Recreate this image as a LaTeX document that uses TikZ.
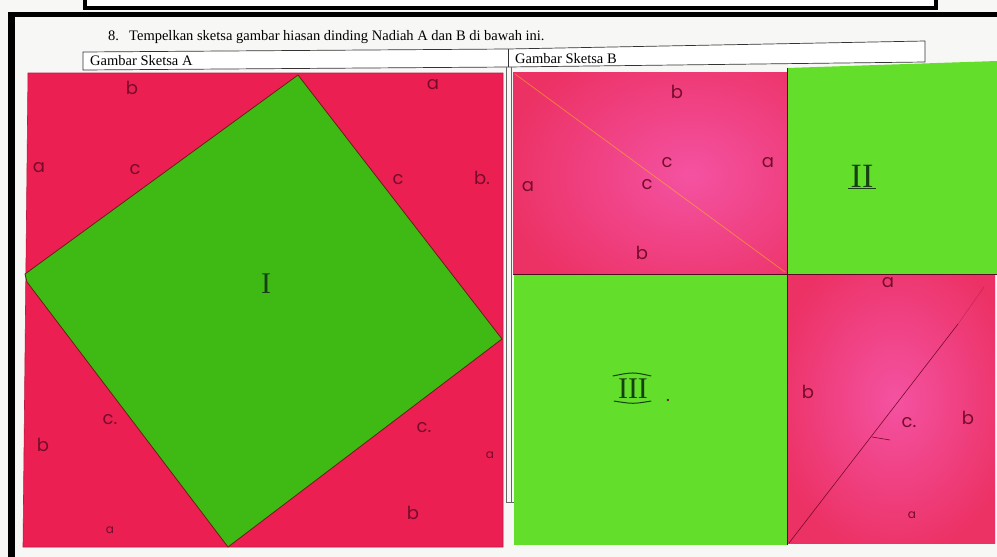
\documentclass[tikz,border=0pt]{standalone}
\usepackage{fontspec}
\setmainfont{Liberation Serif}
\newfontfamily\hand{Poppins}
\definecolor{redA}{HTML}{EC1F52}
\definecolor{greenA}{HTML}{3FBA14}
\definecolor{pinkB}{HTML}{EC3164}
\definecolor{pinkBc}{HTML}{F452A2}
\definecolor{greenB}{HTML}{63DE2A}
\definecolor{ink}{HTML}{760C2A}
\definecolor{inkg}{HTML}{163F14}
\definecolor{edgeA}{HTML}{6A1E14}
\definecolor{paper}{HTML}{F7F7F5}
\tikzset{
  lbl/.style={inner sep=0pt, text=ink, font=\hand\fontsize{18}{18}\selectfont},
  lbls/.style={inner sep=0pt, text=ink, font=\hand\fontsize{12}{12}\selectfont},
  numeral/.style={inner sep=0pt, text=inkg, font=\fontsize{30}{30}\selectfont},
  hdr/.style={anchor=base west, inner sep=0pt, font=\fontsize{14.5}{15}\selectfont},
  tbl/.style={draw=black!80, line width=0.7pt},
  piece/.style={draw=edgeA, line width=0.8pt, line join=round}
}
\begin{document}
\begin{tikzpicture}[x=1pt,y=-1pt]
\useasboundingbox (0,0) rectangle (997,557);
\fill[paper] (0,0) rectangle (997,557);
% top box of the previous question
\fill[white] (85,-5) rectangle (936,8);
\draw[line width=4.5pt] (85,-5) -- (85,8) -- (936,8) -- (936,-5);
% black frame
\fill[black] (8,12) rectangle (15,557);
\fill[black] (8,12) rectangle (997,17);
% question
\node[anchor=base west, inner sep=0pt, font=\fontsize{14.5}{15}\selectfont] (q8) at (108,40)
  {8.\hspace{0.7em}Tempelkan sketsa gambar hiasan dinding Nadiah A dan B di bawah ini.};
% table header
\fill[white] (83,52) -- (508,49) -- (925,41) -- (925,62) -- (508,67) -- (83,70) -- cycle;
\draw[tbl] (83,52) -- (508,49) -- (925,41) -- (925,62) -- (508,67) -- (83,70) -- cycle;
\draw[tbl] (508,49) -- (508,67);
\node[hdr] (ha) at (90,65) {Gambar Sketsa A};
\node[hdr] (hb) at (515,63) {Gambar Sketsa B};
\draw[black!60, line width=0.6pt] (506,67) -- (506,502) -- (515,502);
\draw[black!60, line width=0.6pt] (511,67) -- (511,502);

% ---------- Sketsa A ----------
\fill[redA] (28,73) -- (503,73) -- (503,547) -- (23,547) -- cycle;
\draw[redA!80!black, line width=0.6pt] (28,73) -- (503,73) -- (503,547) -- (23,547) -- cycle;
\filldraw[fill=greenA, piece] (298,75) -- (502,339) -- (228,547) -- (27,282) -- (25,274) -- cycle;
\node[lbl] (a1) at (132,88) {b};
\node[lbl] (a2) at (39,168) {a};
\node[lbl] (a3) at (135,170) {c};
\node[lbl] (a4) at (433,85) {a};
\node[lbl] (a5) at (398,180) {c};
\node[lbl] (a6) at (482,178) {b.};
\node[lbl] (a7) at (424,428) {c.};
\node[lbls] (a8) at (490,455) {a};
\node[lbl] (a9) at (413,513) {b};
\node[lbl] (a10) at (110,420) {c.};
\node[lbl] (a11) at (43,445) {b};
\node[lbls] (a12) at (110,530) {a};
\node[numeral] (n1) at (266,284) {I};

% ---------- Sketsa B ----------
\begin{scope}
\clip (513,72) rectangle (787,274);
\shade[outer color=pinkB, inner color=pinkBc] (500,30) rectangle (880,320);
\end{scope}
\draw[yellow!70!orange, opacity=0.45, line width=0.8pt] (515,74) -- (785,272);
\fill[greenB] (787,68) -- (997,61) -- (997,274) -- (787,274) -- cycle;
\fill[greenB] (514,274) rectangle (787,545);
\begin{scope}
\clip (787,274) rectangle (995,543);
\shade[outer color=pinkB, inner color=pinkBc] (770,240) rectangle (1020,560);
\end{scope}
\draw[ink!80!black, line width=0.6pt] (787,274) -- (997,274);
\draw[ink!80!black, line width=0.6pt] (787,68) -- (787,545);
\draw[ink!70!black, line width=0.6pt] (513,274) -- (787,274);
\draw[ink, line width=0.6pt] (789,543) -- (958,324);
\draw[ink, opacity=0.35, line width=0.5pt] (958,324) -- (984,287);
\draw[ink, line width=0.6pt] (872,437) -- (890,440);

\node[lbl] (b1) at (677,92) {b};
\node[lbl] (b2) at (667,163) {c};
\node[lbl] (b3) at (768,163) {a};
\node[lbl] (b4) at (528,187) {a};
\node[lbl] (b5) at (647,185) {c};
\node[lbl] (b6) at (642,253) {b};
\node[numeral, font=\fontsize{34}{34}\selectfont] (n2) at (862,176) {II};
\draw[inkg, line width=1pt] ([xshift=-2pt,yshift=-1pt]n2.south west) -- ([xshift=2pt,yshift=-1pt]n2.south east);
\node[lbl] (b7) at (888,283) {a};
\node[numeral] (n3) at (633,389) {III};
\draw[inkg, line width=1pt] ([xshift=-5pt,yshift=3pt]n3.north west) .. controls ([yshift=7pt]n3.north) .. ([xshift=3pt,yshift=3pt]n3.north east);
\draw[inkg, line width=1pt] ([xshift=-4pt,yshift=-2pt]n3.south west) .. controls ([yshift=-5pt]n3.south) .. ([xshift=3pt,yshift=-2pt]n3.south east);
\node[lbl] (n3d) at (668,400) {.};
\node[lbl] (b8) at (808,392) {b};
\node[lbl] (b9) at (909,423) {c.};
\node[lbl] (b10) at (968,418) {b};
\node[lbls] (b11) at (912,515) {a};
\end{tikzpicture}
\end{document}
